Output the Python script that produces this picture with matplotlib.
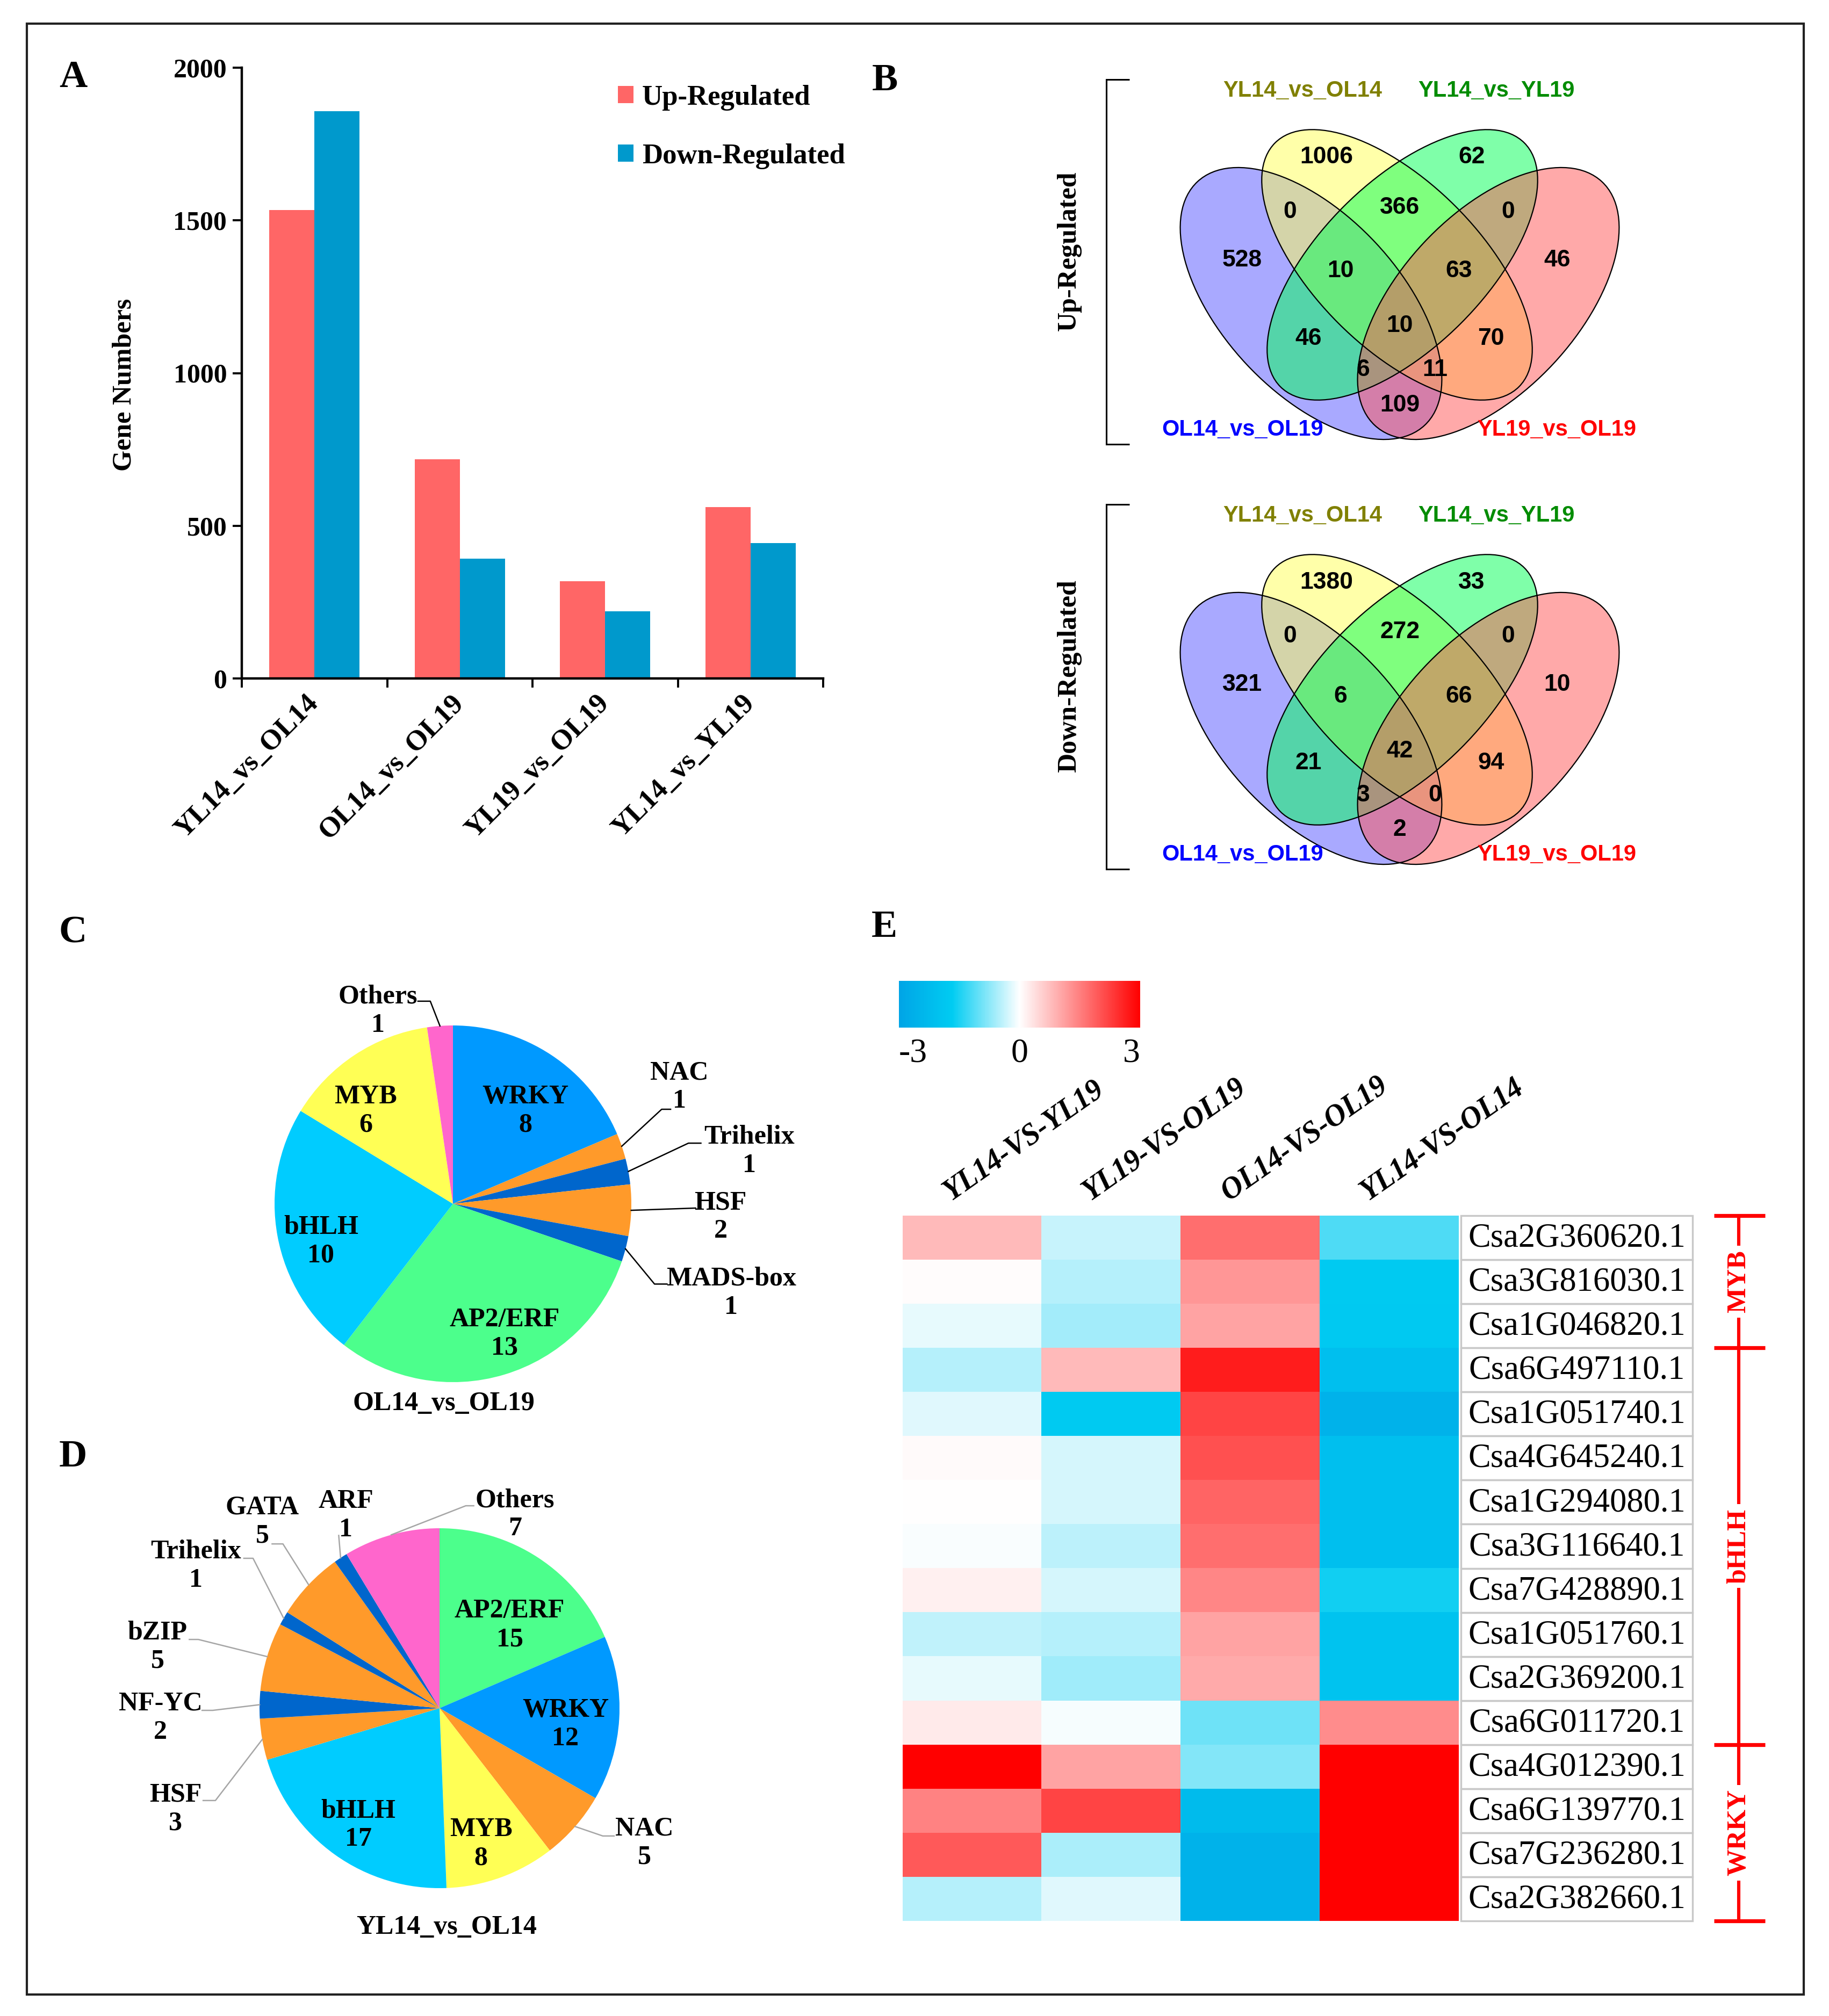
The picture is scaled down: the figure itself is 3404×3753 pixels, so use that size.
import numpy as np
import matplotlib
matplotlib.use("Agg")
import matplotlib.pyplot as plt
from matplotlib.patches import Ellipse, Rectangle
from matplotlib.colors import LinearSegmentedColormap, Normalize
from matplotlib.cm import ScalarMappable

# ======================= DATA =======================
# Panel A
bar_categories = ["YL14_vs_OL14", "OL14_vs_OL19", "YL19_vs_OL19", "YL14_vs_YL19"]
up_regulated = [1533, 717, 319, 561]
down_regulated = [1857, 393, 220, 444]
bar_yticks = [0, 500, 1000, 1500, 2000]

# Panel B (B=OL14_vs_OL19, Y=YL14_vs_OL14, G=YL14_vs_YL19, R=YL19_vs_OL19)
venn_set_names = ["OL14_vs_OL19", "YL14_vs_OL14", "YL14_vs_YL19", "YL19_vs_OL19"]
venn_regions = ["B", "Y", "G", "R", "BY", "YG", "GR", "BYG", "YGR", "BYGR",
                "BG", "YR", "BGR", "BYR", "BR"]
venn_up = [528, 1006, 62, 46, 0, 366, 0, 10, 63, 10, 46, 70, 6, 11, 109]
venn_down = [321, 1380, 33, 10, 0, 272, 0, 6, 66, 42, 21, 94, 3, 0, 2]

# Panel C
pie_c_families = ["WRKY", "NAC", "Trihelix", "HSF", "MADS-box", "AP2/ERF", "bHLH", "MYB", "Others"]
pie_c_counts = [8, 1, 1, 2, 1, 13, 10, 6, 1]
pie_c_title = "OL14_vs_OL19"

# Panel D
pie_d_families = ["AP2/ERF", "WRKY", "NAC", "MYB", "bHLH", "HSF", "NF-YC", "bZIP",
                  "Trihelix", "GATA", "ARF", "Others"]
pie_d_counts = [15, 12, 5, 8, 17, 3, 2, 5, 1, 5, 1, 7]
pie_d_title = "YL14_vs_OL14"

# Panel E
heat_columns = ["YL14-VS-YL19", "YL19-VS-OL19", "OL14-VS-OL19", "YL14-VS-OL14"]
heat_genes = ["Csa2G360620.1", "Csa3G816030.1", "Csa1G046820.1", "Csa6G497110.1",
              "Csa1G051740.1", "Csa4G645240.1", "Csa1G294080.1", "Csa3G116640.1",
              "Csa7G428890.1", "Csa1G051760.1", "Csa2G369200.1", "Csa6G011720.1",
              "Csa4G012390.1", "Csa6G139770.1", "Csa7G236280.1", "Csa2G382660.1"]
heat_values = [
    [0.82, -0.36, 1.70, -1.15],
    [0.03, -0.49, 1.24, -1.72],
    [-0.16, -0.59, 1.06, -1.78],
    [-0.49, 0.82, 2.65, -2.10],
    [-0.20, -1.72, 2.18, -2.55],
    [0.06, -0.26, 2.06, -2.10],
    [0.00, -0.26, 1.82, -2.10],
    [-0.03, -0.43, 1.70, -2.10],
    [0.18, -0.26, 1.41, -1.55],
    [-0.40, -0.49, 1.06, -1.95],
    [-0.16, -0.63, 1.00, -1.95],
    [0.24, -0.05, -0.95, 1.35],
    [3.00, 1.06, -0.80, 3.00],
    [1.47, 2.18, -2.25, 3.00],
    [1.94, -0.56, -2.55, 3.00],
    [-0.49, -0.20, -2.55, 3.00],
]
heat_groups = ["MYB", "bHLH", "WRKY"]
heat_group_sizes = [3, 9, 4]

# ======================= STYLE / LAYOUT =======================
SERIF = "Liberation Serif"
SANS = "Liberation Sans"
W, H = 3404, 3753
DPI = 200
fig = plt.figure(figsize=(W / DPI, H / DPI), dpi=DPI)
fig.patch.set_facecolor("white")


def fr(x0, y0, x1, y1):
    return [x0 / W, 1 - y1 / H, (x1 - x0) / W, (y1 - y0) / H]


# overlay in pixel coordinates
ov = fig.add_axes([0, 0, 1, 1], zorder=0)
ov.set_xlim(0, W)
ov.set_ylim(H, 0)
ov.axis("off")
ov.add_patch(Rectangle((50, 44), 3307, 3669, fill=False, lw=1.5, ec="#222222", clip_on=False))

# panel letters
for letter, (px, py) in {"A": (136, 145), "B": (1647, 151), "C": (136, 1737),
                         "D": (136, 2712), "E": (1646, 1726)}.items():
    ov.text(px, py, letter, fontfamily=SERIF, fontweight="bold", fontsize=26,
            ha="center", va="center")

# ---------------- Panel A ----------------
axA = fig.add_axes(fr(450, 126, 1532, 1263))
xc = np.arange(len(bar_categories))
bw = 0.31
axA.bar(xc - bw / 2, up_regulated, bw, color="#FF6666", label="Up-Regulated")
axA.bar(xc + bw / 2, down_regulated, bw, color="#0099CC", label="Down-Regulated")
axA.set_xlim(-0.5, len(bar_categories) - 0.5)
axA.set_ylim(0, 2000)
for s in ("top", "right"):
    axA.spines[s].set_visible(False)
for s in ("left", "bottom"):
    axA.spines[s].set_linewidth(1.6)
axA.set_yticks(bar_yticks)
axA.set_yticklabels([str(v) for v in bar_yticks], fontfamily=SERIF, fontweight="bold", fontsize=18)
axA.tick_params(axis="y", direction="out", length=6, width=1.4, pad=4)
axA.set_xticks(np.arange(-0.5, len(bar_categories), 1.0))
axA.set_xticklabels([])
axA.tick_params(axis="x", which="major", direction="out", length=6, width=1.4)
axA.set_xticks(xc, minor=True)
axA.set_xticklabels(bar_categories, minor=True, rotation=45, ha="right",
                    rotation_mode="anchor", fontfamily=SERIF, fontweight="bold", fontsize=19)
axA.tick_params(axis="x", which="minor", length=0, pad=14)
for lab in axA.get_xticklabels(minor=True):
    lab.set_va("center")
axA.legend(loc="upper left", bbox_to_anchor=(1150 / W, 1 - 158 / H), bbox_transform=fig.transFigure,
           frameon=False, borderaxespad=0, borderpad=0, handlelength=0.55, handleheight=0.55,
           handletextpad=0.3, labelspacing=1.15,
           prop=dict(family=SERIF, weight="bold", size=19))
ov.text(232, 716, "Gene Numbers", rotation=90, ha="center", va="center",
        fontfamily=SERIF, fontweight="bold", fontsize=18)

# ---------------- Panel B ----------------
venn_colors = {"B": "#5555FF", "Y": "#FFFF55", "G": "#00FF55", "R": "#FF5555"}
label_colors = ["#0000FF", "#808000", "#008C00", "#FF0000"]
# ellipse geometry (pixels): center x, center y, width, height, angle
ell_geom = {"B": (2440, 565, 620, 330, 47), "Y": (2600, 493, 642, 308, 45),
            "G": (2610, 493, 642, 308, -45), "R": (2770, 565, 620, 330, -47)}
region_pos = {"B": (2312, 484), "Y": (2469, 293), "G": (2739, 293), "R": (2898, 484),
              "BY": (2401, 394), "YG": (2605, 386), "GR": (2807, 394), "BYG": (2495, 505),
              "YGR": (2715, 505), "BYGR": (2605, 607), "BG": (2435, 630), "YR": (2775, 630),
              "BGR": (2537, 689), "BYR": (2671, 689), "BR": (2605, 754)}
setlabel_pos = [(2313, 800), (2424, 169), (2785, 169), (2897, 800)]


def draw_venn(dy, values, title):
    for key in ["B", "Y", "G", "R"]:
        cx, cy, w, h, ang = ell_geom[key]
        ov.add_patch(Ellipse((cx, cy + dy), w, h, angle=ang, fc=venn_colors[key], alpha=0.5, lw=0))
    for key in ["B", "Y", "G", "R"]:
        cx, cy, w, h, ang = ell_geom[key]
        ov.add_patch(Ellipse((cx, cy + dy), w, h, angle=ang, fill=False, ec="black", lw=0.8))
    for reg, val in zip(venn_regions, values):
        px, py = region_pos[reg]
        ov.text(px, py + dy, str(val), ha="center", va="center", fontfamily=SANS,
                fontweight="bold", fontsize=16)
    for name, col, (px, py) in zip(venn_set_names, label_colors, setlabel_pos):
        ov.text(px, py + dy, name, ha="center", va="center", fontfamily=SANS,
                fontweight="bold", fontsize=15, color=col)
    top, bot = 148 + dy, 827 + dy
    ov.plot([2102, 2059, 2059, 2102], [top, top, bot, bot], color="black", lw=1.1,
            solid_capstyle="butt", solid_joinstyle="miter")
    ov.text(1990, (top + bot) / 2 - 20, title, rotation=90, ha="center", va="center",
            fontfamily=SERIF, fontweight="bold", fontsize=18)


draw_venn(0, venn_up, "Up-Regulated")
draw_venn(791, venn_down, "Down-Regulated")

# ---------------- Pies ----------------
fam_colors = {"WRKY": "#0099FF", "NAC": "#FF9A2A", "Trihelix": "#0066CC", "HSF": "#FF9A2A",
              "MADS-box": "#0066CC", "AP2/ERF": "#4CFF8C", "bHLH": "#00CCFF", "MYB": "#FFFF55",
              "Others": "#FF66CC", "NF-YC": "#0066CC", "bZIP": "#FF9A2A", "GATA": "#FF9A2A",
              "ARF": "#0066CC"}
PIE_FS = 18
PIE_LS = 1.2


def draw_pie(cx, cy, R, fams, counts, title, title_pos, inside, outside, line_col):
    ax = fig.add_axes(fr(cx - 2 * R, cy - 2 * R, cx + 2 * R, cy + 2 * R))
    wedges, _ = ax.pie(counts, colors=[fam_colors[f] for f in fams], startangle=90,
                       counterclock=False, radius=1.0, wedgeprops=dict(linewidth=0))
    ax.set_xlim(-2, 2)
    ax.set_ylim(-2, 2)
    ax.set_aspect("auto")
    ax.axis("off")
    for fam, cnt, wdg in zip(fams, counts, wedges):
        label = f"{fam}\n{cnt}"
        if fam in inside:
            x, y = inside[fam]
            ax.text(x, y, label, ha="center", va="center", fontfamily=SERIF, fontweight="bold",
                    fontsize=PIE_FS, linespacing=PIE_LS)
        elif fam in outside:
            (tx, ty), pts = outside[fam]
            mid = np.deg2rad((wdg.theta1 + wdg.theta2) / 2)
            xs = [np.cos(mid)] + [p[0] for p in pts]
            ys = [np.sin(mid)] + [p[1] for p in pts]
            ax.plot(xs, ys, color=line_col, lw=0.9, clip_on=False)
            ax.text(tx, ty, label, ha="center", va="center", fontfamily=SERIF, fontweight="bold",
                    fontsize=PIE_FS, linespacing=PIE_LS)
    ax.text(title_pos[0], title_pos[1], title, ha="center", va="center", fontfamily=SERIF,
            fontweight="bold", fontsize=PIE_FS)
    ax.set_xlim(-2, 2)
    ax.set_ylim(-2, 2)
    return ax


c_inside = {"WRKY": (0.405, 0.52), "MYB": (-0.49, 0.52), "bHLH": (-0.74, -0.21),
            "AP2/ERF": (0.29, -0.73)}
c_outside = {"Others": ((-0.42, 1.08), [(-0.127, 1.136), (-0.196, 1.136)]),
             "NAC": ((1.27, 0.655), [(1.17, 0.53), (1.22, 0.53)]),
             "Trihelix": ((1.66, 0.295), [(1.32, 0.34), (1.39, 0.34)]),
             "HSF": ((1.50, -0.074), [(1.36, -0.024)]),
             "MADS-box": ((1.56, -0.50), [(1.13, -0.45), (1.20, -0.45)])}
draw_pie(843, 2241, 332, pie_c_families, pie_c_counts, pie_c_title, (-0.05, -1.12),
         c_inside, c_outside, "black")

d_inside = {"AP2/ERF": (0.39, 0.46), "WRKY": (0.70, -0.09), "MYB": (0.23, -0.755),
            "bHLH": (-0.45, -0.65)}
d_outside = {"Others": ((0.42, 1.076), [(0.146, 1.125), (0.19, 1.125)]),
             "ARF": ((-0.52, 1.07), [(-0.56, 0.96)]),
             "GATA": ((-0.985, 1.037), [(-0.87, 0.913), (-0.93, 0.913)]),
             "Trihelix": ((-1.355, 0.79), [(-1.036, 0.833), (-1.087, 0.833)]),
             "bZIP": ((-1.567, 0.34), [(-1.34, 0.382), (-1.39, 0.382)]),
             "NF-YC": ((-1.55, -0.055), [(-1.26, -0.012), (-1.319, -0.012)]),
             "HSF": ((-1.466, -0.56), [(-1.245, -0.513), (-1.313, -0.513)]),
             "NAC": ((1.137, -0.75), [(0.907, -0.71), (0.97, -0.71)])}
draw_pie(818, 3180, 335, pie_d_families, pie_d_counts, pie_d_title, (0.04, -1.218),
         d_inside, d_outside, "#A6A6A6")

# ---------------- Panel E ----------------
cmap = LinearSegmentedColormap.from_list(
    "heat", [(0.0, "#00A5E6"), (0.22, "#00CCF2"), (0.5, "#FFFFFF"), (1.0, "#FF0000")])
norm = Normalize(vmin=-3, vmax=3)

axE = fig.add_axes(fr(1680, 2263, 2715, 3576))
axE.imshow(np.array(heat_values), cmap=cmap, norm=norm, aspect="auto", interpolation="nearest")
axE.axis("off")
nrows = len(heat_genes)
ncols = len(heat_columns)
for i, g in enumerate(heat_genes):
    axE.add_patch(Rectangle((3.515, i - 0.5), 1.665, 1.0, fill=False, ec="#C8C8C8", lw=1.2,
                            clip_on=False))
    axE.text(4.348, i + 0.02, g, ha="center", va="center", fontfamily=SERIF, fontsize=22.5,
             clip_on=False)
for j, c in enumerate(heat_columns):
    axE.text(j - 0.13, -0.72, c, rotation=35, ha="left", va="bottom", rotation_mode="anchor",
             fontfamily=SERIF, fontstyle="italic", fontweight="bold", fontsize=20, clip_on=False)

# group bracket
bx = 5.513
edges = np.concatenate([[0], np.cumsum(heat_group_sizes)]) - 0.5
axE.plot([bx, bx], [edges[0], edges[-1]], color="red", lw=2.2, clip_on=False,
         solid_capstyle="butt")
for e in edges:
    axE.plot([5.336, 5.703], [e, e], color="red", lw=2.6, clip_on=False, solid_capstyle="butt")
for gname, a, b in zip(heat_groups, edges[:-1], edges[1:]):
    axE.text(bx, (a + b) / 2, gname, rotation=90, ha="center", va="center", color="red",
             fontfamily=SERIF, fontweight="bold", fontsize=18, clip_on=False,
             bbox=dict(fc="white", ec="none", pad=3))
axE.set_xlim(-0.5, ncols - 0.5)
axE.set_ylim(nrows - 0.5, -0.5)

# colour bar
cax = fig.add_axes(fr(1673, 1826, 2122, 1913))
cb = fig.colorbar(ScalarMappable(norm=norm, cmap=cmap), cax=cax, orientation="horizontal")
cb.outline.set_visible(False)
cb.set_ticks([-3, 0, 3])
cb.ax.tick_params(length=0, pad=7)
cb.ax.set_xticklabels(["-3", "0", "3"], fontfamily=SERIF, fontsize=23)
tl = cb.ax.get_xticklabels()
tl[0].set_ha("left")
tl[-1].set_ha("right")

fig.savefig("out.png", dpi=DPI, facecolor="white")
